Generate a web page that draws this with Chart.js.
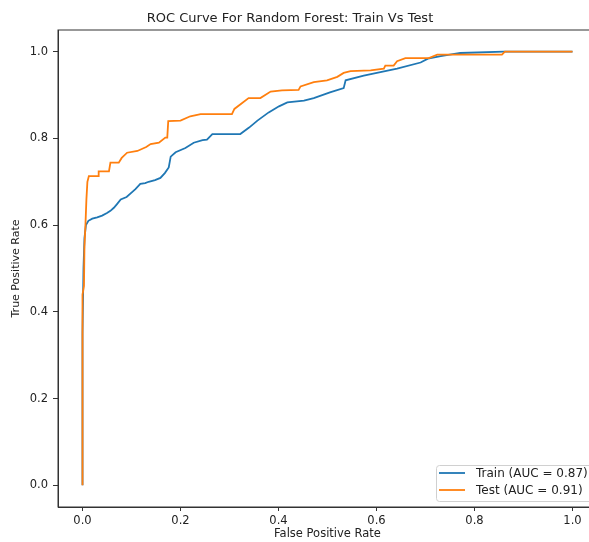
<!DOCTYPE html>
<html>
<head>
<meta charset="utf-8">
<script src="https://cdn.jsdelivr.net/npm/chart.js@4.4.0/dist/chart.umd.min.js"></script>
<style>
  html, body { margin: 0; padding: 0; background: #fff; overflow: hidden; }
  canvas { display: block; }
</style>
</head>
<body>
<canvas id="rocChart" width="597" height="542"></canvas>
<script>
// data (false positive rate, true positive rate)
const trainFpr = [0, 0, 0.002, 0.004, 0.007, 0.012, 0.02, 0.03, 0.04, 0.05, 0.057, 0.064, 0.07, 0.078, 0.09, 0.1, 0.108, 0.118, 0.128, 0.135, 0.148, 0.159, 0.168, 0.176, 0.18, 0.19, 0.21, 0.227, 0.245, 0.254, 0.265, 0.322, 0.34, 0.357, 0.38, 0.401, 0.418, 0.452, 0.472, 0.505, 0.533, 0.537, 0.574, 0.608, 0.642, 0.69, 0.705, 0.731, 0.771, 0.86, 1];
const trainTpr = [0, 0.35, 0.5, 0.57, 0.6, 0.61, 0.615, 0.618, 0.622, 0.628, 0.633, 0.64, 0.648, 0.659, 0.665, 0.675, 0.683, 0.695, 0.697, 0.7, 0.704, 0.709, 0.72, 0.733, 0.758, 0.768, 0.778, 0.79, 0.796, 0.797, 0.81, 0.81, 0.825, 0.841, 0.86, 0.874, 0.883, 0.887, 0.893, 0.906, 0.916, 0.934, 0.945, 0.953, 0.961, 0.975, 0.984, 0.99, 0.997, 1.0, 1.0];

const testFpr = [0, 0, 0.003, 0.004, 0.006, 0.008, 0.01, 0.013, 0.033, 0.033, 0.054, 0.057, 0.074, 0.08, 0.091, 0.112, 0.13, 0.139, 0.156, 0.169, 0.173, 0.175, 0.2, 0.22, 0.241, 0.305, 0.31, 0.339, 0.363, 0.384, 0.407, 0.441, 0.445, 0.472, 0.499, 0.52, 0.533, 0.547, 0.588, 0.615, 0.618, 0.635, 0.642, 0.659, 0.707, 0.724, 0.856, 0.862, 1];
const testTpr = [0, 0.44, 0.46, 0.55, 0.6, 0.66, 0.7, 0.713, 0.713, 0.724, 0.724, 0.744, 0.744, 0.755, 0.767, 0.771, 0.78, 0.787, 0.79, 0.802, 0.802, 0.84, 0.841, 0.851, 0.856, 0.856, 0.868, 0.893, 0.893, 0.908, 0.911, 0.912, 0.92, 0.93, 0.934, 0.942, 0.951, 0.955, 0.957, 0.961, 0.968, 0.968, 0.978, 0.985, 0.985, 0.993, 0.993, 1.0, 1.0];

const seriesLabels = ["Train (AUC = 0.87)", "Test (AUC = 0.91)"];
const xTicks = [0, 0.2, 0.4, 0.6, 0.8, 1.0];
const yTicks = [0, 0.2, 0.4, 0.6, 0.8, 1.0];

const BLUE = "#1f77b4";
const ORANGE = "#ff7f0e";
const AXIS = "#333";
const TEXT = "#222";
const FONT = "'DejaVu Sans', sans-serif";

function toPoints(xs, ys) {
  return xs.map((x, i) => ({ x: x, y: ys[i] }));
}

// title, top spine and legend drawn in the matplotlib style
const frame = {
  id: "frame",
  afterDraw(chart) {
    const { ctx, chartArea: a } = chart;
    ctx.save();
    ctx.strokeStyle = AXIS;
    ctx.lineWidth = 1;
    ctx.strokeRect(a.left, a.top, a.right - a.left, a.bottom - a.top);

    ctx.fillStyle = TEXT;
    ctx.font = "13px " + FONT;
    ctx.textAlign = "center";
    ctx.textBaseline = "middle";
    ctx.fillText("ROC Curve For Random Forest: Train Vs Test", 290, 19);

    // legend box, lower right
    const bx = 436.5, by = 465.5, bw = 160, bh = 36;
    ctx.fillStyle = "rgba(255,255,255,0.8)";
    ctx.strokeStyle = "#d0d0d0";
    ctx.beginPath();
    ctx.roundRect(bx, by, bw, bh, 3);
    ctx.fill();
    ctx.stroke();
    const colors = [BLUE, ORANGE];
    const rows = [473, 490];
    ctx.font = "12px " + FONT;
    ctx.textAlign = "left";
    seriesLabels.forEach((lab, i) => {
      ctx.strokeStyle = colors[i];
      ctx.lineWidth = 1.8;
      ctx.beginPath();
      ctx.moveTo(439, rows[i]);
      ctx.lineTo(465, rows[i]);
      ctx.stroke();
      ctx.fillStyle = TEXT;
      ctx.fillText(lab, 476, rows[i] + 0.5);
    });
    ctx.restore();
  }
};

new Chart(document.getElementById("rocChart"), {
  type: "scatter",
  data: {
    datasets: [
      {
        label: seriesLabels[0],
        data: toPoints(trainFpr, trainTpr),
        showLine: true,
        borderColor: BLUE,
        borderWidth: 1.8,
        pointRadius: 0,
        tension: 0,
        order: 1,
      },
      {
        label: seriesLabels[1],
        data: toPoints(testFpr, testTpr),
        showLine: true,
        borderColor: ORANGE,
        borderWidth: 1.8,
        pointRadius: 0,
        tension: 0,
        order: 0,
      },
    ],
  },
  options: {
    responsive: false,
    animation: false,
    layout: { padding: { top: 30, right: 0, left: 0, bottom: 0 } },
    plugins: {
      legend: { display: false },
      tooltip: { enabled: false },
      title: { display: false },
    },
    scales: {
      x: {
        type: "linear",
        min: -0.05,
        max: 1.05,
        afterBuildTicks: (s) => { s.ticks = xTicks.map((v) => ({ value: v })); },
        afterFit: (s) => { s.height = 35; },
        border: { color: AXIS, width: 1 },
        grid: { drawOnChartArea: false, drawTicks: true, tickLength: 4, color: AXIS },
        ticks: {
          color: TEXT,
          padding: 3,
          maxRotation: 0,
          font: { family: FONT, size: 11.5 },
          callback: (v) => Number(v).toFixed(1),
        },
        title: {
          display: true,
          text: "False Positive Rate",
          color: TEXT,
          font: { family: FONT, size: 11.5 },
          padding: { top: 0, bottom: 1 },
        },
      },
      y: {
        type: "linear",
        min: -0.05,
        max: 1.05,
        afterBuildTicks: (s) => { s.ticks = yTicks.map((v) => ({ value: v })); },
        afterFit: (s) => { s.width = 58; },
        border: { color: AXIS, width: 1 },
        grid: { drawOnChartArea: false, drawTicks: true, tickLength: 5, color: AXIS },
        ticks: {
          color: TEXT,
          padding: 5,
          font: { family: FONT, size: 11.5 },
          callback: (v) => Number(v).toFixed(1),
        },
        title: {
          display: true,
          text: "True Positive Rate",
          color: TEXT,
          font: { family: FONT, size: 11 },
          padding: { top: 10, bottom: 0 },
        },
      },
    },
  },
  plugins: [frame],
});
</script>
</body>
</html>
